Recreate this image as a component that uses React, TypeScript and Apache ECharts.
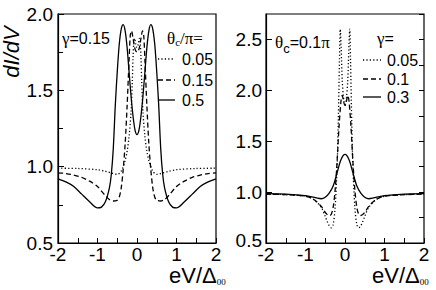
import React, { useEffect, useRef } from "react";
import * as echarts from "echarts";

// Left panel: gamma = 0.15, theta_c/pi = 0.05 (dotted), 0.15 (dashed), 0.5 (solid)
const leftDottedX = [-2, -1.5, -1, -0.8, -0.6, -0.5, -0.4, -0.3, -0.25, -0.2, -0.15, -0.12, -0.1, -0.08, -0.06, -0.03, 0, 0.03, 0.06, 0.08, 0.1, 0.12, 0.15, 0.2, 0.25, 0.3, 0.4, 0.5, 0.6, 0.8, 1, 1.5, 2];
const leftDottedY = [0.99, 0.988, 0.98, 0.97, 0.955, 0.95, 0.97, 1.04, 1.1, 1.2, 1.36, 1.55, 1.72, 1.82, 1.84, 1.8, 1.78, 1.8, 1.84, 1.82, 1.72, 1.55, 1.36, 1.2, 1.1, 1.04, 0.97, 0.95, 0.955, 0.97, 0.98, 0.988, 0.99];

const leftDashedX = [-2, -1.8, -1.6, -1.4, -1.2, -1, -0.8, -0.7, -0.6, -0.5, -0.45, -0.4, -0.35, -0.3, -0.25, -0.2, -0.17, -0.14, -0.1, -0.05, 0, 0.05, 0.1, 0.14, 0.17, 0.2, 0.25, 0.3, 0.35, 0.4, 0.45, 0.5, 0.6, 0.7, 0.8, 1, 1.2, 1.4, 1.6, 1.8, 2];
const leftDashedY = [0.96, 0.955, 0.945, 0.93, 0.905, 0.87, 0.81, 0.785, 0.775, 0.78, 0.8, 0.86, 0.98, 1.15, 1.4, 1.7, 1.86, 1.89, 1.84, 1.77, 1.75, 1.77, 1.84, 1.89, 1.86, 1.7, 1.4, 1.15, 0.98, 0.86, 0.8, 0.78, 0.775, 0.785, 0.81, 0.87, 0.905, 0.93, 0.945, 0.955, 0.96];

const leftSolidX = [-2, -1.8, -1.6, -1.4, -1.2, -1, -0.9, -0.8, -0.7, -0.65, -0.6, -0.55, -0.5, -0.45, -0.4, -0.35, -0.3, -0.25, -0.2, -0.15, -0.1, -0.05, 0, 0.05, 0.1, 0.15, 0.2, 0.25, 0.3, 0.35, 0.4, 0.45, 0.5, 0.55, 0.6, 0.65, 0.7, 0.8, 0.9, 1, 1.2, 1.4, 1.6, 1.8, 2];
const leftSolidY = [0.92, 0.9, 0.87, 0.82, 0.77, 0.73, 0.735, 0.77, 0.86, 0.95, 1.12, 1.4, 1.62, 1.8, 1.9, 1.93, 1.89, 1.78, 1.62, 1.46, 1.33, 1.24, 1.21, 1.24, 1.33, 1.46, 1.62, 1.78, 1.89, 1.93, 1.9, 1.8, 1.62, 1.4, 1.12, 0.95, 0.86, 0.77, 0.735, 0.73, 0.77, 0.82, 0.87, 0.9, 0.92];

// Right panel: theta_c = 0.1 pi, gamma = 0.05 (dotted), 0.1 (dashed), 0.3 (solid)
const rightDottedX = [-2, -1.5, -1, -0.8, -0.6, -0.5, -0.45, -0.4, -0.35, -0.3, -0.25, -0.2, -0.17, -0.14, -0.12, -0.1, -0.07, -0.03, 0, 0.03, 0.07, 0.1, 0.12, 0.14, 0.17, 0.2, 0.25, 0.3, 0.35, 0.4, 0.45, 0.5, 0.6, 0.8, 1, 1.5, 2];
const rightDottedY = [0.98, 0.975, 0.96, 0.93, 0.85, 0.76, 0.71, 0.67, 0.65, 0.68, 0.85, 1.25, 1.7, 2.3, 2.6, 2.45, 2.1, 1.9, 1.86, 1.9, 2.1, 2.45, 2.6, 2.3, 1.7, 1.25, 0.85, 0.68, 0.65, 0.67, 0.71, 0.76, 0.85, 0.93, 0.96, 0.975, 0.98];

const rightDashedX = [-2, -1.5, -1, -0.8, -0.6, -0.5, -0.4, -0.35, -0.3, -0.25, -0.2, -0.15, -0.1, -0.07, -0.03, 0, 0.03, 0.07, 0.1, 0.15, 0.2, 0.25, 0.3, 0.35, 0.4, 0.5, 0.6, 0.8, 1, 1.5, 2];
const rightDashedY = [0.98, 0.975, 0.96, 0.93, 0.86, 0.8, 0.77, 0.78, 0.85, 1.02, 1.3, 1.65, 1.9, 1.95, 1.88, 1.85, 1.88, 1.95, 1.9, 1.65, 1.3, 1.02, 0.85, 0.78, 0.77, 0.8, 0.86, 0.93, 0.96, 0.975, 0.98];

const rightSolidX = [-2, -1.5, -1, -0.8, -0.7, -0.6, -0.5, -0.4, -0.3, -0.2, -0.1, 0, 0.1, 0.2, 0.3, 0.4, 0.5, 0.6, 0.7, 0.8, 1, 1.5, 2];
const rightSolidY = [0.985, 0.98, 0.965, 0.95, 0.94, 0.935, 0.95, 0.99, 1.06, 1.19, 1.32, 1.37, 1.32, 1.19, 1.06, 0.99, 0.95, 0.935, 0.94, 0.95, 0.965, 0.98, 0.985];

const leftLegend = ["0.05", "0.15", "0.5"];
const rightLegend = ["0.05", "0.1", "0.3"];

const SANS = 'Arial, "Liberation Sans", Helvetica, sans-serif';
const SERIF = '"Times New Roman", "Liberation Serif", serif';

const zip = (xs: number[], ys: number[]) => xs.map((x, i) => [x, ys[i]]);

const DOT = [1.2, 2.2];
const DASH = [5, 3];

export default function App() {
  const ref = useRef<HTMLDivElement>(null);
  useEffect(() => {
    if (!ref.current) return;
    const chart = echarts.init(ref.current, undefined, { renderer: "svg" });

    const xAxisBase = (gi: number) => ({
      type: "value",
      gridIndex: gi,
      min: -2,
      max: 2,
      interval: 1,
      axisLine: { show: true, onZero: false, lineStyle: { color: "#000", width: 1.2 } },
      axisTick: { show: true, inside: true, length: 5, lineStyle: { color: "#000" } },
      minorTick: { show: true, splitNumber: 2, length: 5, lineStyle: { color: "#000" } },
      splitLine: { show: false },
      axisLabel: { color: "#000", fontSize: 19, fontFamily: SANS, margin: 5, lineHeight: 12 },
    });

    const mkSeries = (xi: number, yi: number, xs: number[], ys: number[], dash: any) => ({
      type: "line",
      xAxisIndex: xi,
      yAxisIndex: yi,
      data: zip(xs, ys),
      symbol: "none",
      smooth: 0.3,
      lineStyle: { color: "#000", width: 1.3, type: dash },
    });

    const legendLine = (x1: number, x2: number, y: number, dash: any) => ({
      type: "line",
      shape: { x1, y1: y, x2, y2: y },
      style: { stroke: "#000", lineWidth: 1.3, lineDash: dash },
    });
    const txt = (x: number, y: number, text: string, size: number, extra: any = {}) => ({
      type: "text",
      x,
      y,
      style: {
        text,
        fill: "#000",
        font: `${size}px ${SANS}`,
        verticalAlign: "middle",
        ...extra,
      },
    });

    const isHalf = (v: number) => Math.abs(v * 2 - Math.round(v * 2)) < 1e-6;

    chart.setOption({
      animation: false,
      grid: [
        { left: 58, top: 14, width: 158, height: 229, show: true, borderColor: "#000", borderWidth: 1.2, backgroundColor: "transparent" },
        { left: 266, top: 14, width: 158, height: 229, show: true, borderColor: "#000", borderWidth: 1.2, backgroundColor: "transparent" },
      ],
      xAxis: [xAxisBase(0), xAxisBase(1)],
      yAxis: [
        {
          type: "value",
          gridIndex: 0,
          min: 0.5,
          max: 2.0,
          interval: 0.5,
          axisLine: { show: true, onZero: false, lineStyle: { color: "#000", width: 1.2 } },
          axisTick: { show: true, inside: true, length: 6, lineStyle: { color: "#000" } },
          minorTick: { show: true, splitNumber: 2, length: 5, lineStyle: { color: "#000" } },
          splitLine: { show: false },
          axisLabel: {
            color: "#000",
            fontSize: 19,
            fontFamily: SANS,
            margin: 5,
            lineHeight: 12,
            formatter: (v: number) => v.toFixed(1),
          },
        },
        {
          type: "value",
          gridIndex: 1,
          min: 0.5,
          max: 2.75,
          interval: 0.5,
          axisLine: { show: true, onZero: false, lineStyle: { color: "#000", width: 1.2 } },
          axisTick: { show: true, inside: true, length: 6, lineStyle: { color: "#000" } },
          splitLine: { show: false },
          axisLabel: {
            color: "#000",
            fontSize: 19,
            fontFamily: SANS,
            margin: 4,
            lineHeight: 12,
            showMaxLabel: false,
            formatter: (v: number) =>
              !isHalf(v) ? "" : v === 0.5 ? "{lo|" + v.toFixed(1) + "}" : v.toFixed(1),
            rich: {
              lo: { fontSize: 19, fontFamily: SANS, color: "#000", lineHeight: 12, padding: [0, 0, 6, 0] },
            },
          },
        },
        {
          type: "value",
          gridIndex: 1,
          min: 0.5,
          max: 2.75,
          interval: 0.25,
          axisLine: { show: false, onZero: false },
          axisTick: { show: true, inside: true, length: 5, lineStyle: { color: "#000" } },
          splitLine: { show: false },
          axisLabel: { show: false },
        },
      ],
      series: [
        mkSeries(0, 0, leftDottedX, leftDottedY, DOT),
        mkSeries(0, 0, leftDashedX, leftDashedY, DASH),
        mkSeries(0, 0, leftSolidX, leftSolidY, "solid"),
        mkSeries(1, 1, rightDottedX, rightDottedY, DOT),
        mkSeries(1, 1, rightDashedX, rightDashedY, DASH),
        mkSeries(1, 1, rightSolidX, rightSolidY, "solid"),
      ],
      graphic: [
        // y-axis title
        {
          type: "text",
          x: 11,
          y: 52,
          rotation: Math.PI / 2,
          style: {
            text: "dI/dV",
            fill: "#000",
            font: `italic 22px ${SANS}`,
            align: "center",
            verticalAlign: "middle",
          },
        },
        // x-axis titles
        {
          type: "text",
          x: 169,
          y: 275,
          style: {
            text: "eV/Δ{s|00}",
            fill: "#000",
            font: `22px ${SANS}`,
            verticalAlign: "middle",
            lineHeight: 16,
            rich: { s: { font: `9px ${SERIF}`, fill: "#000", padding: [14, 0, 0, 0] } },
          },
        },
        {
          type: "text",
          x: 372,
          y: 275,
          style: {
            text: "eV/Δ{s|00}",
            fill: "#000",
            font: `22px ${SANS}`,
            verticalAlign: "middle",
            lineHeight: 16,
            rich: { s: { font: `9px ${SERIF}`, fill: "#000", padding: [14, 0, 0, 0] } },
          },
        },
        // left annotations
        {
          type: "text",
          x: 62,
          y: 38,
          style: {
            text: "{g|γ}=0.15",
            fill: "#000",
            font: `16px ${SANS}`,
            verticalAlign: "middle",
            rich: { g: { font: `17px ${SERIF}`, fill: "#000" } },
          },
        },
        {
          type: "text",
          x: 167,
          y: 38,
          style: {
            text: "{t|θ}{c|c}{t|/π=}",
            fill: "#000",
            font: `16px ${SERIF}`,
            verticalAlign: "middle",
            rich: {
              t: { font: `17px ${SERIF}`, fill: "#000" },
              c: { font: `11px ${SERIF}`, fill: "#000", padding: [8, 0, 0, 0] },
            },
          },
        },
        legendLine(158, 175, 59, DOT),
        legendLine(158, 175, 80, DASH),
        legendLine(158, 175, 100, []),
        txt(182, 59, leftLegend[0], 16),
        txt(182, 80, leftLegend[1], 16),
        txt(182, 100, leftLegend[2], 16),
        // right annotations
        {
          type: "text",
          x: 275,
          y: 42,
          style: {
            text: "{t|θ}{c|c}=0.1{t|π}",
            fill: "#000",
            font: `16px ${SANS}`,
            verticalAlign: "middle",
            rich: {
              t: { font: `17px ${SERIF}`, fill: "#000" },
              c: { font: `13px ${SANS}`, fill: "#000", padding: [12, 0, 0, 0] },
            },
          },
        },
        {
          type: "text",
          x: 377,
          y: 38,
          style: {
            text: "{g|γ}=",
            fill: "#000",
            font: `16px ${SANS}`,
            verticalAlign: "middle",
            rich: { g: { font: `17px ${SERIF}`, fill: "#000" } },
          },
        },
        legendLine(363, 381, 60, DOT),
        legendLine(363, 381, 79, DASH),
        legendLine(363, 381, 97, []),
        txt(387, 60, rightLegend[0], 16),
        txt(387, 79, rightLegend[1], 16),
        txt(387, 97, rightLegend[2], 16),
      ],
    });
    return () => chart.dispose();
  }, []);
  return (
    <div
      ref={ref}
      style={{ position: "fixed", left: 0, top: 0, width: 436, height: 290, background: "#fff" }}
    />
  );
}
